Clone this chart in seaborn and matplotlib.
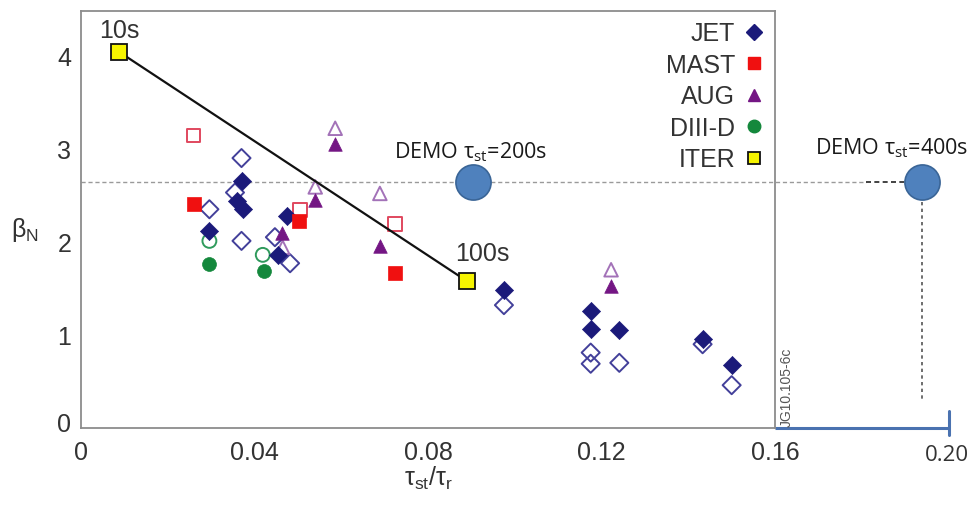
import numpy as np
import pandas as pd
import matplotlib
matplotlib.use("Agg")
import matplotlib.pyplot as plt
from matplotlib.lines import Line2D
from matplotlib.transforms import ScaledTranslation
import seaborn as sns

# ---------------------------------------------------------------- data
jet_filled_x = [0.0296, 0.0370, 0.0360, 0.0374, 0.0455, 0.0476, 0.0975, 0.1175, 0.1175, 0.1241, 0.1433, 0.1500]
jet_filled_y = [2.12, 2.65, 2.44, 2.35, 1.86, 2.28, 1.48, 1.26, 1.06, 1.05, 0.96, 0.68]
jet_open_x = [0.0370, 0.0355, 0.0296, 0.0370, 0.0447, 0.0482, 0.0975, 0.1175, 0.1175, 0.1241, 0.1433, 0.1500]
jet_open_y = [2.90, 2.53, 2.35, 2.01, 2.05, 1.77, 1.32, 0.81, 0.69, 0.70, 0.90, 0.46]

mast_filled_x = [0.0261, 0.0503, 0.0724]
mast_filled_y = [2.41, 2.22, 1.67]
mast_open_x = [0.0259, 0.0505, 0.0724]
mast_open_y = [3.14, 2.34, 2.19]

aug_filled_x = [0.0463, 0.0540, 0.0586, 0.0689, 0.1222]
aug_filled_y = [2.10, 2.45, 3.05, 1.96, 1.53]
aug_open_x = [0.0465, 0.0540, 0.0586, 0.0689, 0.1222]
aug_open_y = [1.94, 2.59, 3.22, 2.52, 1.70]

diiid_filled_x = [0.0294, 0.0422]
diiid_filled_y = [1.76, 1.69]
diiid_open_x = [0.0296, 0.0419]
diiid_open_y = [2.01, 1.86]

iter_x = [0.0088, 0.0889]
iter_y = [4.04, 1.58]
iter_labels = ["10s", "100s"]

demo_x = [0.0904, 0.1939]
demo_y = [2.645, 2.645]
demo_labels = [r"DEMO $\mathregular{\tau_{st}}$=200s", r"DEMO $\mathregular{\tau_{st}}$=400s"]

devices = ["JET", "MAST", "AUG", "DIII-D"]
x_ticks = [0, 0.04, 0.08, 0.12, 0.16]
x_tick_labels = ["0", "0.04", "0.08", "0.12", "0.16"]
y_ticks = [0, 1, 2, 3, 4]
extra_x_tick = 0.20

# ------------------------------------------------------------ frames
records = []
for dev, fx, fy, ox, oy in [
    ("JET", jet_filled_x, jet_filled_y, jet_open_x, jet_open_y),
    ("MAST", mast_filled_x, mast_filled_y, mast_open_x, mast_open_y),
    ("AUG", aug_filled_x, aug_filled_y, aug_open_x, aug_open_y),
    ("DIII-D", diiid_filled_x, diiid_filled_y, diiid_open_x, diiid_open_y),
]:
    records += [dict(device=dev, kind="open", x=a, y=b) for a, b in zip(ox, oy)]
    records += [dict(device=dev, kind="filled", x=a, y=b) for a, b in zip(fx, fy)]
df = pd.DataFrame(records)
iter_df = pd.DataFrame(dict(x=iter_x, y=iter_y, label=iter_labels))
demo_df = pd.DataFrame(dict(x=demo_x, y=demo_y, label=demo_labels))

style = {
    "JET":    dict(marker="D", s=85,  fill="#1b1a7a", edge="#43409a"),
    "MAST":   dict(marker="s", s=95,  fill="#f01010", edge="#e0485e"),
    "AUG":    dict(marker="^", s=95,  fill="#741684", edge="#a372b8"),
    "DIII-D": dict(marker="o", s=100, fill="#14883c", edge="#2f9a5c"),
}

# ------------------------------------------------------------ figure
sns.set_theme(style="white")
plt.rcParams["font.family"] = ["Liberation Sans", "DejaVu Sans"]
plt.rcParams["mathtext.fontset"] = "dejavusans"

fig = plt.figure(figsize=(9.76, 5.06), dpi=100)
ax = fig.add_axes([0.0830, 0.1522, 0.7111, 0.8241])

grey = "#8c8c8c"
label_col = "#333333"

# reference lines through the DEMO operating points
ax.plot([0, 0.181], [demo_y[0], demo_y[0]], ls=(0, (3, 2)), lw=1.0, color="#9a9a9a", zorder=1, clip_on=False)
ax.plot([0.181, demo_x[1]], [demo_y[1], demo_y[1]], ls=(0, (3, 2)), lw=1.2, color="#222222", zorder=1, clip_on=False)
ax.plot([demo_x[1], demo_x[1]], [demo_y[1], 0.29], ls=(0, (2, 2)), lw=1.2, color="#555555", zorder=1, clip_on=False)

# experimental points: hollow first, filled on top
for dev in devices:
    st = style[dev]
    sub = df[(df.device == dev) & (df.kind == "open")]
    sns.scatterplot(data=sub, x="x", y="y", ax=ax, marker=st["marker"], s=st["s"],
                    color=st["edge"], facecolor="none", edgecolor=st["edge"],
                    linewidth=1.4, legend=False, zorder=3)
for dev in devices:
    st = style[dev]
    sub = df[(df.device == dev) & (df.kind == "filled")]
    sns.scatterplot(data=sub, x="x", y="y", ax=ax, marker=st["marker"], s=st["s"],
                    color=st["fill"], edgecolor=st["fill"], linewidth=0.5,
                    legend=False, zorder=4)

# ITER line between 10s and 100s
sns.lineplot(data=iter_df, x="x", y="y", ax=ax, color="#111111", lw=1.6,
             marker="s", markersize=11, markerfacecolor="#f6f400",
             markeredgecolor="#111111", markeredgewidth=1.3, zorder=5)
offsets = [(0, 16), (11, 20)]
for (_, r), off in zip(iter_df.iterrows(), offsets):
    ax.annotate(r["label"], (r["x"], r["y"]), xytext=off, textcoords="offset points",
                ha="center", va="center", fontsize=18, color=label_col)

# DEMO points
sns.scatterplot(data=demo_df, x="x", y="y", ax=ax, s=640, color="#4f81bd",
                edgecolor="#3a6597", linewidth=1.2, legend=False, zorder=6, clip_on=False)
demo_offsets = [(-2, 22), (-22, 25)]
for (_, r), off in zip(demo_df.iterrows(), demo_offsets):
    ax.annotate(r["label"], (r["x"], r["y"]), xytext=off, textcoords="offset points",
                ha="center", va="center", fontsize=15.5, color="#1a1a1a",
                family=["Open Sans", "DejaVu Sans"], annotation_clip=False)

# extended x axis out to 0.20
ax.plot([0.16, extra_x_tick], [0, 0], color="#4a72b0", lw=2.2, clip_on=False, zorder=2,
        solid_capstyle="butt")
ax.plot([extra_x_tick, extra_x_tick], [-0.07, 0.18], color="#4a72b0", lw=2.2, clip_on=False, zorder=2)
ax.text(extra_x_tick - 0.0003, -0.28, "0.20", ha="center", va="center", fontsize=16,
        color=label_col, family=["Open Sans", "DejaVu Sans"])

ax.text(0.1626, 0.02, "JG10.105-6c", rotation=90, ha="center", va="bottom",
        fontsize=10, color="#555555")

# axes
ax.set_xlim(0, 0.16)
ax.set_ylim(0, 4.48)
ax.set_xticks(x_ticks)
ax.set_xticklabels(x_tick_labels)
ax.set_yticks(y_ticks)
ax.set_xticks(np.arange(0.02, 0.16, 0.04), minor=True)
ax.set_yticks(np.arange(0.5, 4.5, 1.0), minor=True)
ax.tick_params(which="both", direction="in", colors=grey, labelcolor=label_col,
               labelsize=18, width=1.0)
ax.tick_params(which="major", length=11.5)
ax.tick_params(which="minor", length=6.5)
ax.tick_params(axis="x", which="major", pad=9)
ax.tick_params(axis="y", which="major", pad=7)
for sp in ax.spines.values():
    sp.set_color(grey)
    sp.set_linewidth(1.3)

# lift the y "0" label clear of the x axis
zero_lab = ax.yaxis.get_major_ticks()[0].label1
zero_lab.set_transform(zero_lab.get_transform() + ScaledTranslation(0, 5 / 72, fig.dpi_scale_trans))

ax.set_xlabel(r"$\mathregular{\tau_{st}/\tau_r}$", fontsize=18, color=label_col, va="center")
ax.xaxis.set_label_coords(0.5, -0.1175)
ax.set_ylabel(r"$\mathregular{\beta_N}$", fontsize=18, color=label_col, rotation=0,
              ha="center", va="center")
ax.yaxis.set_label_coords(-0.081, 0.477)

# legend: label then marker
handles = [Line2D([], [], ls="none", marker=style[d]["marker"], markersize=9 if d != "JET" else 8,
                  markerfacecolor=style[d]["fill"], markeredgecolor=style[d]["fill"]) for d in devices]
handles.append(Line2D([], [], ls="none", marker="s", markersize=9, markerfacecolor="#f6f400",
                      markeredgecolor="#111111", markeredgewidth=1.3))
leg = ax.legend(handles, devices + ["ITER"], loc="upper right", bbox_to_anchor=(0.984, 0.975),
                frameon=False, markerfirst=False, fontsize=18, handlelength=0.8,
                handletextpad=0.35, labelspacing=0.3, borderaxespad=0, borderpad=0)
for t in leg.get_texts():
    t.set_color(label_col)

fig.savefig("out.png", dpi=100)
